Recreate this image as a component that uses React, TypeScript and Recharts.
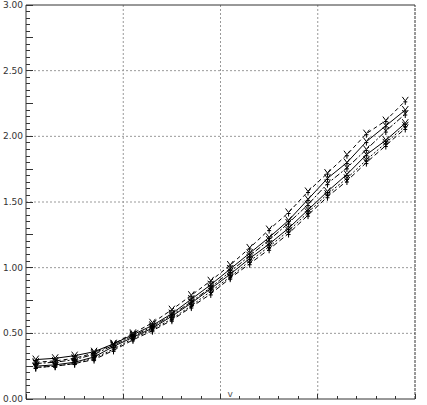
import React from 'react';
import { LineChart, Line, XAxis, YAxis, ReferenceLine, ReferenceDot } from 'recharts';

const categories = [0.5, 1.5, 2.5, 3.5, 4.5, 5.5, 6.5, 7.5, 8.5, 9.5, 10.5, 11.5, 12.5, 13.5, 14.5, 15.5, 16.5, 17.5, 18.5, 19.5];
const seriesA = [0.28, 0.29, 0.31, 0.35, 0.42, 0.50, 0.58, 0.68, 0.79, 0.90, 1.02, 1.15, 1.29, 1.42, 1.58, 1.72, 1.86, 2.02, 2.12, 2.27];
const seriesB = [0.30, 0.31, 0.33, 0.36, 0.42, 0.49, 0.56, 0.65, 0.76, 0.87, 0.99, 1.11, 1.23, 1.36, 1.52, 1.68, 1.80, 1.96, 2.08, 2.20];
const seriesC = [0.27, 0.28, 0.30, 0.34, 0.41, 0.48, 0.55, 0.64, 0.74, 0.85, 0.97, 1.09, 1.21, 1.34, 1.48, 1.64, 1.76, 1.90, 2.04, 2.17];
const seriesD = [0.25, 0.26, 0.28, 0.32, 0.40, 0.47, 0.54, 0.63, 0.73, 0.84, 0.95, 1.07, 1.18, 1.30, 1.44, 1.58, 1.71, 1.86, 1.97, 2.10];
const seriesE = [0.24, 0.25, 0.27, 0.31, 0.38, 0.46, 0.53, 0.61, 0.71, 0.82, 0.93, 1.05, 1.16, 1.28, 1.42, 1.56, 1.68, 1.82, 1.95, 2.08];
const seriesF = [0.24, 0.25, 0.27, 0.30, 0.37, 0.45, 0.52, 0.60, 0.70, 0.80, 0.92, 1.03, 1.14, 1.26, 1.40, 1.54, 1.66, 1.80, 1.93, 2.06];

const xTicks = [0, 1, 2, 3, 4, 5, 6, 7, 8, 9, 10, 11, 12, 13, 14, 15, 16, 17, 18, 19, 20];
const xGrid = [5, 10, 15];
const yTicks = Array.from({ length: 61 }, (_, i) => Math.round(i * 5) / 100);
const yGrid = [0.5, 1.0, 1.5, 2.0, 2.5];
const axisText = 'v';

const data = categories.map((x, i) => ({
  x,
  a: seriesA[i],
  b: seriesB[i],
  c: seriesC[i],
  d: seriesD[i],
  e: seriesE[i],
  f: seriesF[i],
}));

const seriesStyles = [
  { key: 'a', dash: '4 3' },
  { key: 'b', dash: undefined },
  { key: 'c', dash: '6 2 2 2' },
  { key: 'd', dash: undefined },
  { key: 'e', dash: '2 2' },
  { key: 'f', dash: '5 3' },
];

const AXIS = '#333';
const FONT = '"DejaVu Sans", Verdana, sans-serif';

const YTick = (props: any) => {
  const { x, y, payload } = props;
  const k = Math.round(payload.value * 100);
  const major = k % 50 === 0;
  const half = k % 25 === 0;
  const len = half ? 7 : 4;
  return (
    <g>
      <line x1={x} x2={x + len} y1={y} y2={y} stroke={AXIS} shapeRendering="crispEdges" />
      {major && (
        <text x={x - 3} y={y} textAnchor="end" dominantBaseline="central" fontSize={9} fill={AXIS} fontFamily={FONT}>
          {payload.value.toFixed(2)}
        </text>
      )}
    </g>
  );
};

const XTick = (props: any) => {
  const { x, y, payload } = props;
  const len = payload.value % 5 === 0 ? 5 : 3;
  return <line x1={x} x2={x} y1={y} y2={y - len} stroke={AXIS} shapeRendering="crispEdges" />;
};

const renderMarker = (p: any) => {
  const { cx, cy, index, dataKey } = p;
  if (cx == null || cy == null) return <g key={`${dataKey}-${index}`} />;
  const d = `M${cx - 3} ${cy - 4} L${cx} ${cy} L${cx + 3} ${cy - 4} M${cx} ${cy} L${cx} ${cy + 4} M${cx - 2} ${cy + 1} L${cx + 2} ${cy + 1}`;
  return <path key={`${dataKey}-${index}`} d={d} stroke="#000" strokeWidth={1} fill="none" />;
};

export default function App() {
  return (
    <div style={{ position: 'absolute', left: 0, top: 0 }}>
      <LineChart width={427} height={405} data={data} margin={{ top: 5, right: 12, bottom: 0, left: 0 }}>
        <XAxis
          dataKey="x"
          type="number"
          domain={[0, 20]}
          ticks={xTicks}
          interval={0}
          height={6}
          tickSize={0}
          tickMargin={0}
          tickLine={false}
          axisLine={{ stroke: AXIS }}
          tick={<XTick />}
        />
        <YAxis
          type="number"
          domain={[0, 3]}
          ticks={yTicks}
          interval={0}
          width={26}
          tickSize={0}
          tickMargin={0}
          tickLine={false}
          axisLine={{ stroke: AXIS }}
          tick={<YTick />}
        />
        {yGrid.map((v) => (
          <ReferenceLine key={`h${v}`} y={v} stroke="#999" strokeDasharray="2 2" />
        ))}
        {xGrid.map((v) => (
          <ReferenceLine key={`v${v}`} x={v} stroke="#999" strokeDasharray="2 2" />
        ))}
        <ReferenceLine y={3} stroke={AXIS} />
        <ReferenceLine x={20} stroke={AXIS} strokeDasharray="3 1" />
        <ReferenceDot
          x={10.5}
          y={0}
          r={0}
          fill="none"
          stroke="none"
          label={{ value: axisText, position: 'top', offset: 2, fontSize: 9, fill: '#555', fontFamily: FONT }}
        />
        {seriesStyles.map((s) => (
          <Line
            key={s.key}
            dataKey={s.key}
            type="linear"
            stroke="#000"
            strokeWidth={1}
            strokeDasharray={s.dash}
            dot={renderMarker}
            activeDot={false}
            isAnimationActive={false}
          />
        ))}
      </LineChart>
    </div>
  );
}
